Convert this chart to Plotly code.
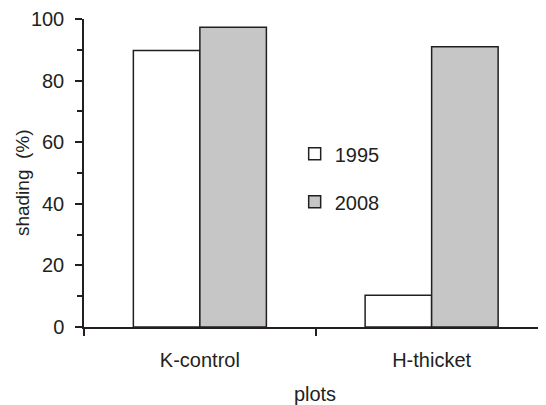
import plotly.graph_objects as go

categories = ["K-control", "H-thicket"]
series_names = ["1995", "2008"]
values_1995 = [89.8, 10.3]
values_2008 = [97.3, 91.0]
y_ticks = [0, 20, 40, 60, 80, 100]

INK = "#231f20"
FONT = "Liberation Sans, Arial, sans-serif"

fig = go.Figure()
fig.add_trace(go.Bar(
    x=categories, y=values_1995, name=series_names[0], legendgroup="a",
    marker=dict(color="white", line=dict(color=INK, width=1.5)),
))
fig.add_trace(go.Bar(
    x=categories, y=values_2008, name=series_names[1], legendgroup="b",
    marker=dict(color="#c6c6c6", line=dict(color=INK, width=1.5)),
))

# page body has an 8px margin, so the figure is 8px smaller each way
fig.update_layout(
    width=538, height=397,
    margin=dict(l=76, r=0, t=11, b=78, autoexpand=False),
    paper_bgcolor="white", plot_bgcolor="white",
    font=dict(family=FONT, size=20, color=INK),
    barmode="group", bargap=0.426, bargroupgap=0,
    showlegend=True,
    legend=dict(
        x=0.456, y=0.626, xanchor="left", yanchor="top",
        traceorder="grouped", tracegroupgap=19,
        bgcolor="rgba(0,0,0,0)", font=dict(size=20),
    ),
    xaxis=dict(
        type="category", range=[-0.5, 1.4935], automargin=False,
        showline=True, linecolor=INK, linewidth=1.5,
        ticks="outside", tickson="boundaries", ticklen=7,
        tickcolor=INK, tickwidth=1.5,
        showgrid=False, zeroline=False,
        ticklabelstandoff=14,
        title=dict(text="plots", standoff=24, font=dict(size=20)),
    ),
    yaxis=dict(
        range=[0, 100], tickvals=y_ticks, automargin=False,
        showline=True, linecolor=INK, linewidth=1.5,
        ticks="outside", ticklen=7, tickcolor=INK, tickwidth=1.5,
        minor=dict(dtick=10, ticks="outside", ticklen=5, tickcolor=INK, tickwidth=1.5),
        showgrid=False, zeroline=False,
        ticklabelstandoff=7,
    ),
    annotations=[dict(
        text="shading  (%)", textangle=-90,
        xref="paper", yref="paper", x=-0.134, y=0.4675,
        xanchor="center", yanchor="middle",
        showarrow=False, font=dict(size=19, color=INK),
    )],
)

fig.write_html("out.html")
